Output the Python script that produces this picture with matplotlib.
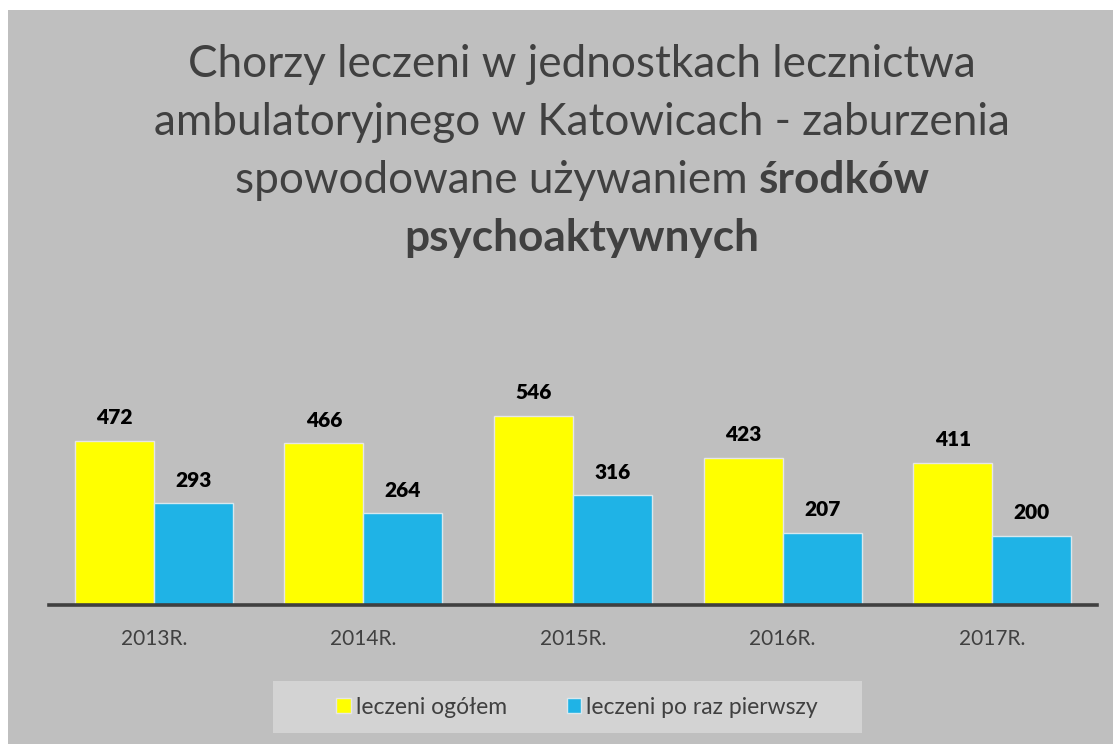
import matplotlib
matplotlib.use("Agg")
import matplotlib.pyplot as plt
import numpy as np
from matplotlib.patches import Rectangle, Patch

# data
years = ["2013R.", "2014R.", "2015R.", "2016R.", "2017R."]
leczeni_ogolem = [472, 466, 546, 423, 411]
leczeni_pierwszy = [293, 264, 316, 207, 200]
series_names = ["leczeni ogółem", "leczeni po raz pierwszy"]

YELLOW = "#ffff00"
BLUE = "#1fb3e6"
BG = "#bfbfbf"
TEXT = "#404040"
FONT = "Lato"

plt.rcParams["font.family"] = [FONT, "DejaVu Sans"]

W, H = 1113, 744
fig = plt.figure(figsize=(W / 100, H / 100), dpi=100)
fig.patch.set_facecolor("white")

# grey chart area (white margin top/left)
fig.patches.append(Rectangle((8 / W, 0), 1 - 8 / W, 1 - 10 / H,
                             transform=fig.transFigure, facecolor=BG,
                             edgecolor="none", zorder=-5))

# plot area
ax = fig.add_axes([49 / W, (H - 605) / H, (1097 - 49) / W, 208 / H])
ax.set_facecolor("none")
ax.set_zorder(2)
x = np.arange(len(years))
width = 0.377
b1 = ax.bar(x - width / 2, leczeni_ogolem, width, color=YELLOW,
            edgecolor="#e6e6e6", linewidth=1, zorder=2)
b2 = ax.bar(x + width / 2, leczeni_pierwszy, width, color=BLUE,
            edgecolor="#d8e8ee", linewidth=1, zorder=2)
for bars in (b1, b2):
    for bar in bars:
        ax.annotate(f"{int(bar.get_height())}",
                    (bar.get_x() + bar.get_width() / 2, bar.get_height()),
                    xytext=(0, 10), textcoords="offset points",
                    ha="center", va="bottom", fontsize=15,
                    fontweight="heavy", color="black")

ax.set_xlim(-0.5, len(years) - 0.5)
ax.set_ylim(0, 600)
ax.set_xticks(x)
ax.set_xticklabels(years, fontsize=15, color=TEXT)
ax.tick_params(axis="x", length=0, pad=17)
ax.set_yticks([])
for s in ("top", "right", "left"):
    ax.spines[s].set_visible(False)
ax.spines["bottom"].set_color(TEXT)
ax.spines["bottom"].set_linewidth(2.6)
ax.spines["bottom"].set_zorder(3)

# title, last part in bold
cx = 582 / W
title_size = 31.8
fig.text(cx, 1 - 77 / H, "Chorzy leczeni w jednostkach lecznictwa",
         ha="center", va="baseline", fontsize=title_size, color=TEXT)
fig.text(cx, 1 - 135 / H, "ambulatoryjnego w Katowicach - zaburzenia",
         ha="center", va="baseline", fontsize=title_size, color=TEXT)
renderer = fig.canvas.get_renderer()
t_norm = fig.text(0, 1 - 193 / H, "spowodowane używaniem ",
                  ha="left", va="baseline", fontsize=title_size, color=TEXT)
t_bold = fig.text(0, 1 - 193 / H, "środków", ha="left", va="baseline",
                  fontsize=title_size, fontweight="bold", color=TEXT)
w_norm = t_norm.get_window_extent(renderer).width / W
w_bold = t_bold.get_window_extent(renderer).width / W
start = cx - (w_norm + w_bold) / 2
t_norm.set_x(start)
t_bold.set_x(start + w_norm)
fig.text(cx, 1 - 251 / H, "psychoaktywnych", ha="center", va="baseline",
         fontsize=title_size, fontweight="bold", color=TEXT)

# legend box
fig.patches.append(Rectangle((273 / W, (H - 733) / H), (862 - 273) / W, 52 / H,
                             transform=fig.transFigure, facecolor="#d3d3d3",
                             edgecolor="none", zorder=-4))
handles = [Patch(facecolor=YELLOW, edgecolor="#e6e6e6"),
           Patch(facecolor=BLUE, edgecolor="#d8e8ee")]
leg = fig.legend(handles, series_names, loc="center",
                 bbox_to_anchor=(577 / W, (H - 707) / H), ncol=2,
                 frameon=False, fontsize=16.5, handlelength=0.65,
                 handleheight=0.65, handletextpad=0.2, columnspacing=2.6)
for t in leg.get_texts():
    t.set_color(TEXT)

fig.savefig("out.png", dpi=100)
